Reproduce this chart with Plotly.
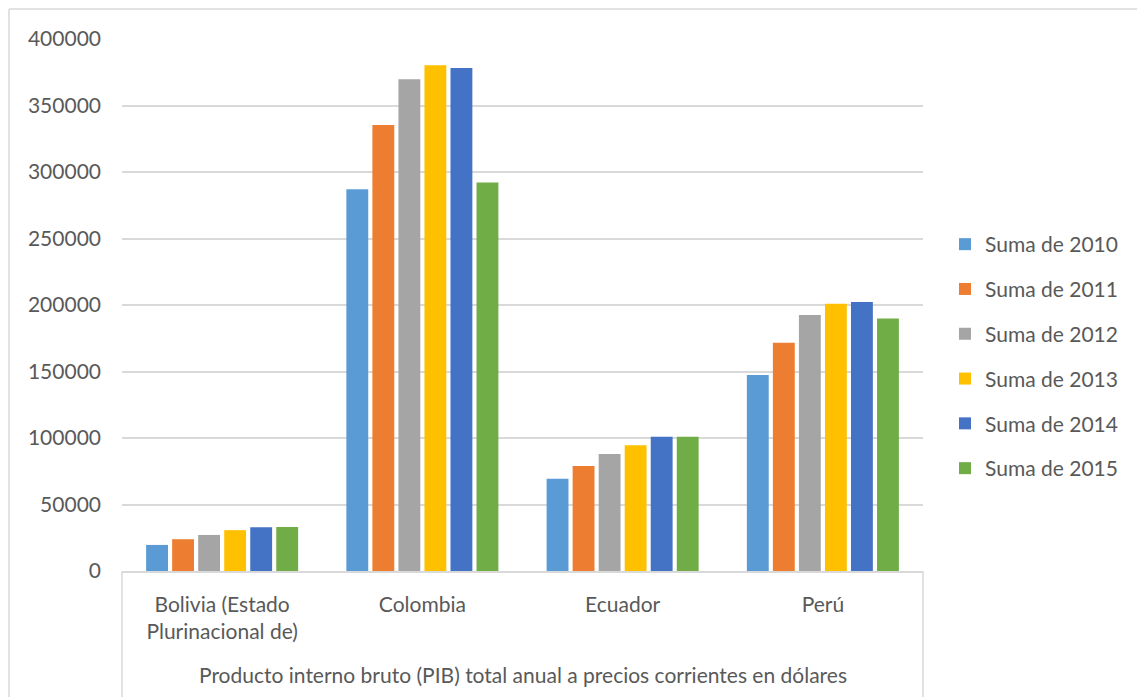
import plotly.graph_objects as go

# Data
countries = ["Bolivia (Estado Plurinacional de)", "Colombia", "Ecuador", "Perú"]
country_labels = ["Bolivia (Estado<br>Plurinacional de)", "Colombia", "Ecuador", "Perú"]
series_names = ["Suma de 2010", "Suma de 2011", "Suma de 2012",
                "Suma de 2013", "Suma de 2014", "Suma de 2015"]

pib_2010 = [19600, 287000, 69400, 147400]
pib_2011 = [23900, 335400, 79000, 171600]
pib_2012 = [27100, 369700, 87900, 192500]
pib_2013 = [30700, 380200, 94600, 200900]
pib_2014 = [32900, 378200, 100900, 202300]
pib_2015 = [33000, 292100, 100900, 189900]

y_ticks = [0, 50000, 100000, 150000, 200000, 250000, 300000, 350000, 400000]
x_title = "Producto interno bruto (PIB) total anual a precios corrientes en dólares"

colors = ["#5B9BD5", "#ED7D31", "#A5A5A5", "#FFC000", "#4472C4", "#70AD47"]
values = [pib_2010, pib_2011, pib_2012, pib_2013, pib_2014, pib_2015]

FONT = "Lato"
TXT = "#595959"
GRID = "#D9D9D9"

fig = go.Figure()
for i, (name, vals) in enumerate(zip(series_names, values)):
    fig.add_trace(go.Bar(
        x=countries, y=vals, name=name,
        marker=dict(color=colors[i], line=dict(width=0)),
        legendgroup=name,
    ))

# page body has an 8px margin, so screen pixel = figure pixel + 8
OFF = 8
W, H = 1145, 697
L, R, T, B = 122 - OFF, 923 - OFF, 39 - OFF, 571 - OFF
pw, ph = R - L, B - T

def px(x):
    # screen x -> paper
    return (x - OFF - L) / pw

def py(y):
    # screen y -> paper
    return (B - (y - OFF)) / ph

fig.update_layout(
    width=W, height=H,
    margin=dict(l=L, r=W - R, t=T, b=H - B, autoexpand=False),
    paper_bgcolor="white", plot_bgcolor="white",
    font=dict(family=FONT, size=21, color=TXT),
    barmode="group", bargap=0.22, bargroupgap=0.16,
    showlegend=True,
    legend=dict(x=px(945), y=py(224), xanchor="left", yanchor="top",
                font=dict(size=21, color=TXT), tracegroupgap=14.5,
                bgcolor="rgba(0,0,0,0)"),
    xaxis=dict(
        tickmode="array", tickvals=countries, ticktext=country_labels,
        showgrid=False, showline=True, linecolor=GRID, linewidth=1.5,
        ticks="outside", ticklen=14, tickcolor="rgba(0,0,0,0)",
        tickfont=dict(size=21, color=TXT), fixedrange=True,
    ),
    yaxis=dict(
        range=[0, 400000], tickvals=y_ticks, tickformat="d",
        showgrid=True, gridcolor=GRID, gridwidth=1.5,
        zeroline=False, showline=False,
        ticks="", ticklabelstandoff=20,
        tickfont=dict(size=21, color=TXT), fixedrange=True,
    ),
    annotations=[dict(
        text=x_title, xref="paper", yref="paper", x=0.5, y=py(674),
        xanchor="center", yanchor="middle", showarrow=False,
        font=dict(size=21, color=TXT),
    )],
    shapes=[
        # category box sides
        dict(type="line", xref="paper", yref="paper", x0=0, x1=0, y0=0, y1=py(710),
             line=dict(color=GRID, width=1.5)),
        dict(type="line", xref="paper", yref="paper", x0=1, x1=1, y0=0, y1=py(710),
             line=dict(color=GRID, width=1.5)),
        # outer chart border
        dict(type="line", xref="paper", yref="paper", x0=px(9), x1=px(1160), y0=py(9), y1=py(9),
             line=dict(color=GRID, width=1.5)),
        dict(type="line", xref="paper", yref="paper", x0=px(9), x1=px(9), y0=py(9), y1=py(710),
             line=dict(color=GRID, width=1.5)),
    ],
)

fig.write_html("out.html")
